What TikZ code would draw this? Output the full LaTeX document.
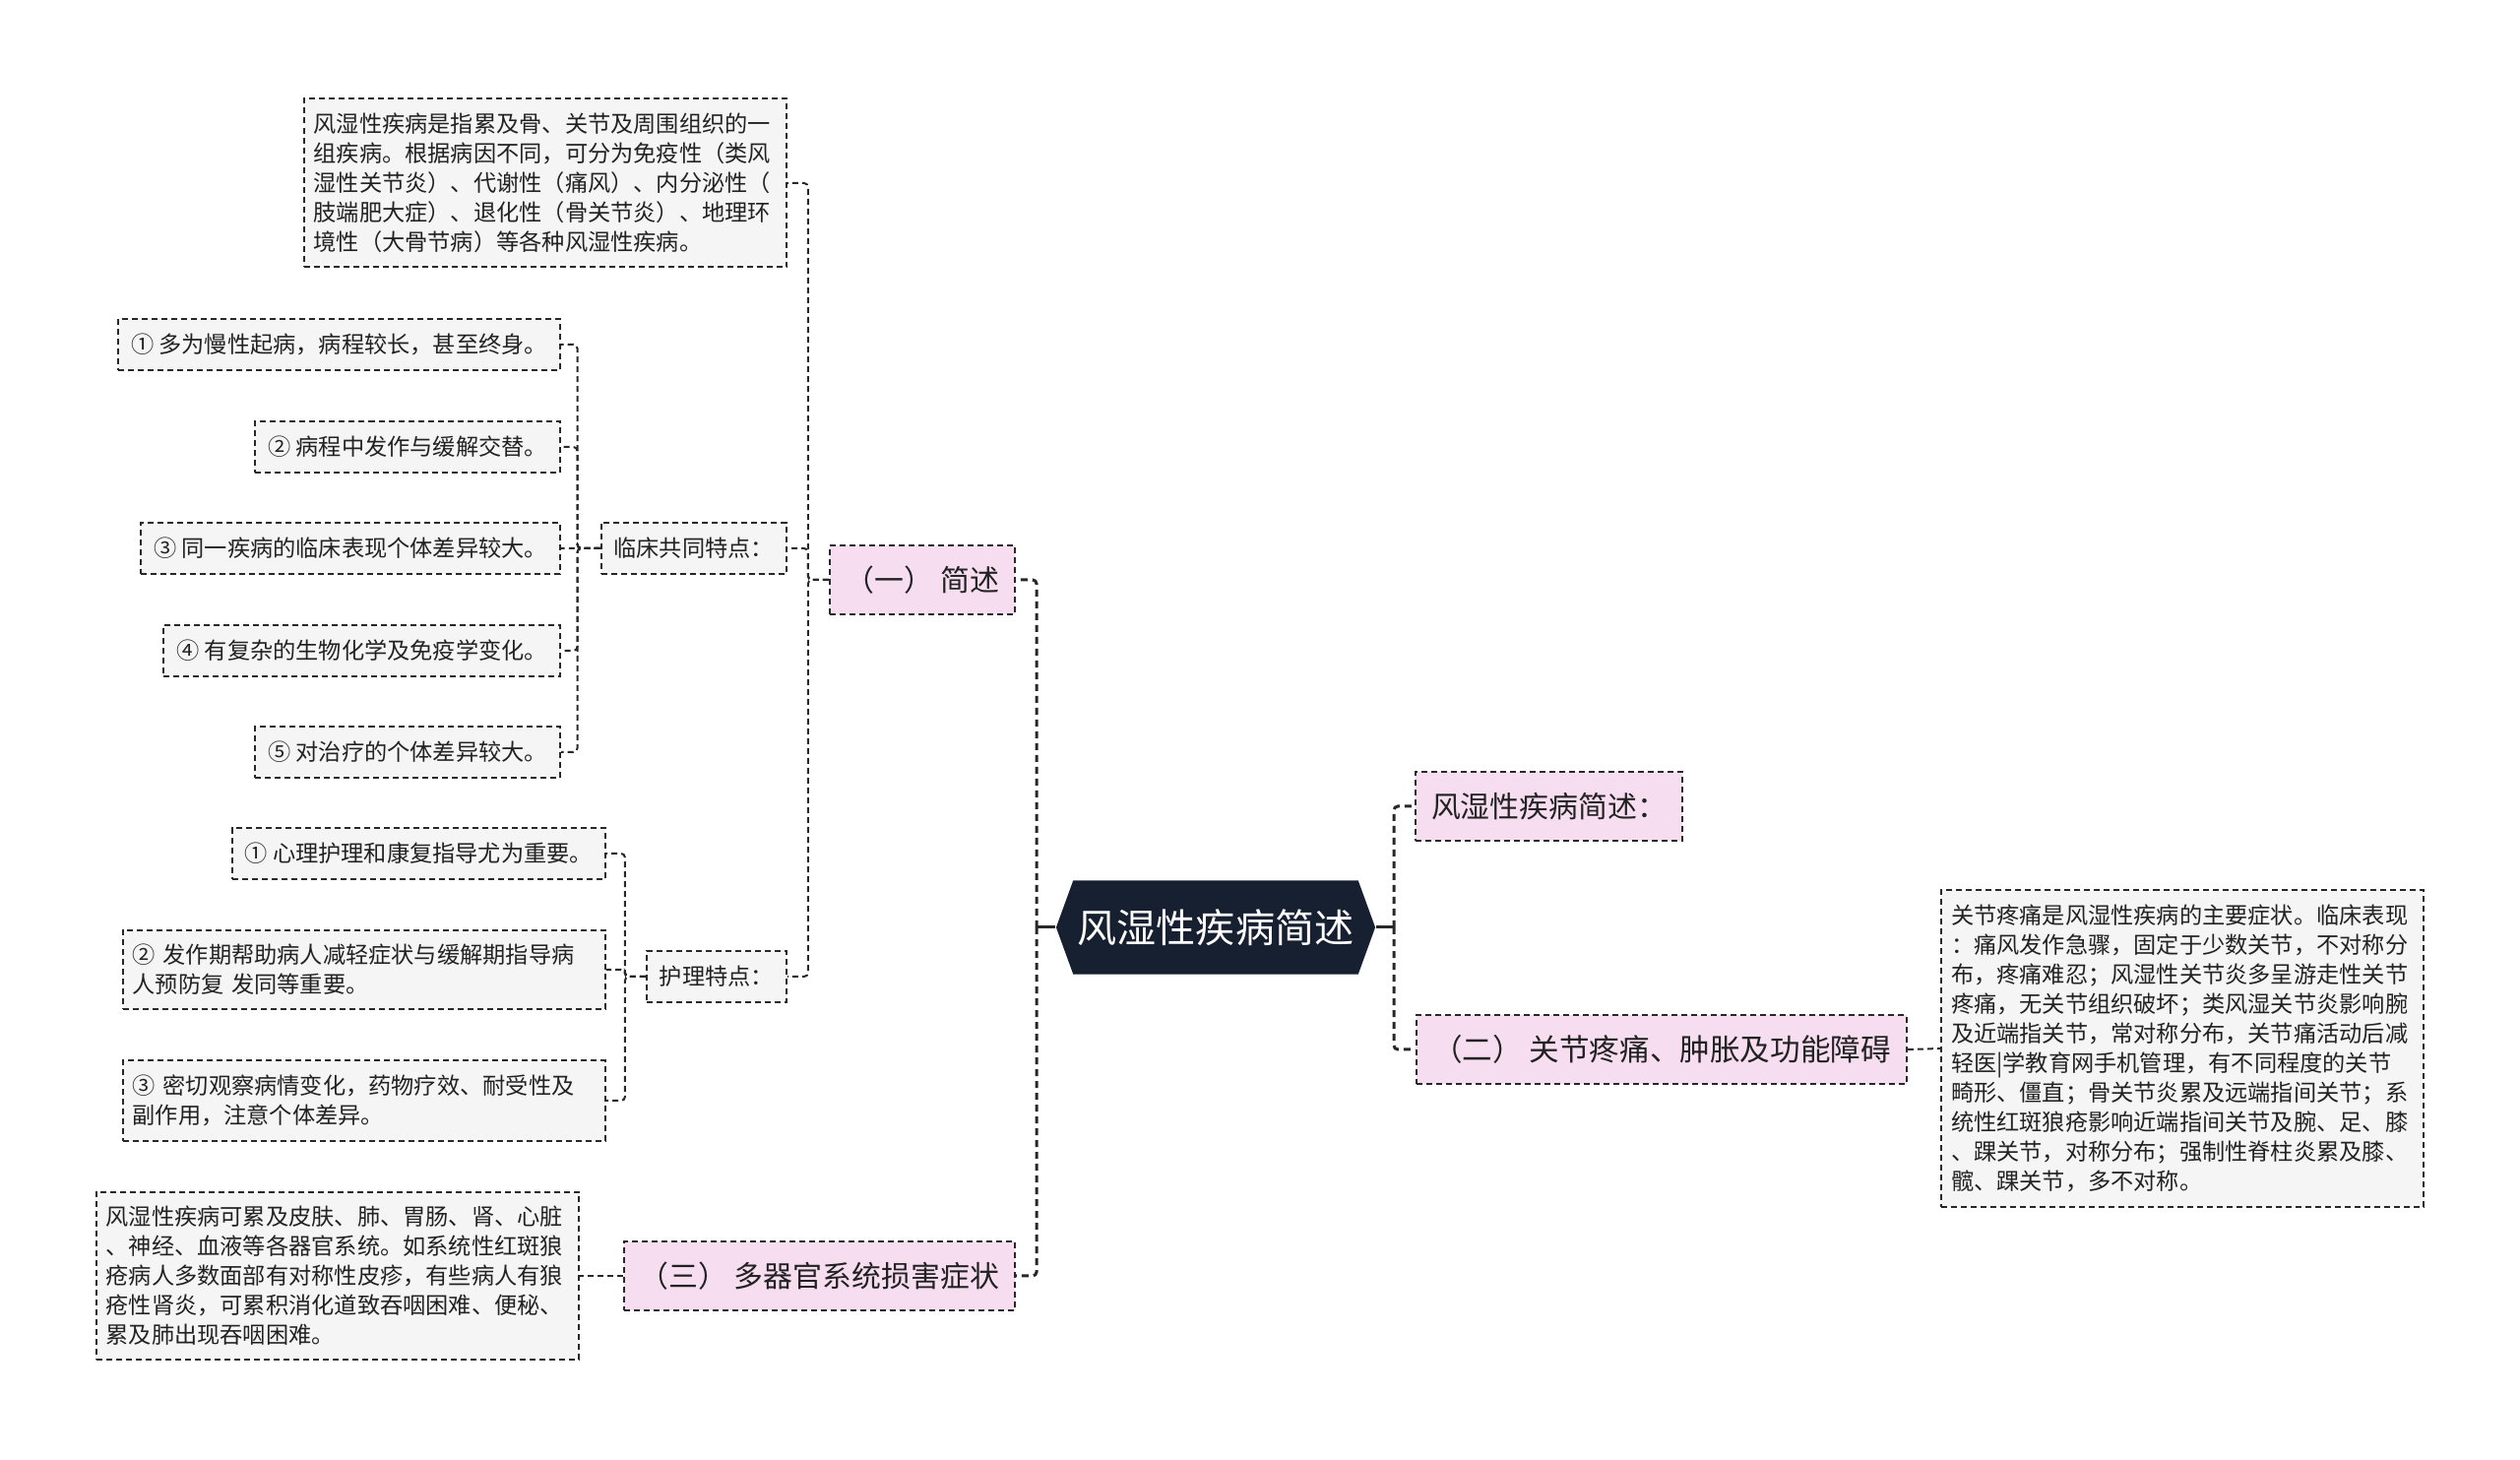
\documentclass[tikz,border=0pt]{standalone}
\usepackage{fontspec}
\setmainfont{Noto Sans CJK SC}
\usetikzlibrary{shapes.symbols}

\definecolor{rootfill}{RGB}{22,32,48}
\definecolor{pinkfill}{RGB}{246,221,240}
\definecolor{greyfill}{RGB}{245,245,245}
\definecolor{linecol}{RGB}{40,40,40}
\definecolor{textcol}{RGB}{34,34,34}

\newcommand{\rootsize}{\fontsize{11.4pt}{13pt}\selectfont}
\newcommand{\topicsize}{\fontsize{8.5pt}{10pt}\selectfont}
\newcommand{\widetopicsize}{\fontsize{8.7pt}{10.5pt}\selectfont}
\newcommand{\notesize}{\fontsize{6.6pt}{8.54pt}\selectfont}

\tikzstyle{rootnode} = [
    signal,
    signal to=west and east,
    signal pointer angle=140,
    minimum width=3.24cm,
    minimum height=0.95cm,
    inner sep=0pt,
    fill=rootfill,
    text=white,
    font=\rootsize
]
\tikzstyle{topic} = [
    rectangle,
    draw=linecol,
    line width=0.02cm,
    dash pattern=on 0.06cm off 0.04cm,
    fill=pinkfill,
    text=textcol,
    inner xsep=0.16cm,
    minimum height=0.70cm,
    font=\topicsize
]
\tikzstyle{note} = [
    rectangle,
    draw=linecol,
    line width=0.02cm,
    dash pattern=on 0.06cm off 0.04cm,
    fill=greyfill,
    text=textcol,
    inner xsep=0.13cm,
    inner ysep=0.145cm,
    minimum height=0.52cm,
    font=\notesize
]
\tikzstyle{para} = [
    note,
    text width=4.70cm,
    inner xsep=0.10cm,
    align=left
]
\tikzstyle{rootlink} = [line width=0.03cm, draw=linecol]
\tikzstyle{mainlink} = [line width=0.03cm, draw=linecol, dash pattern=on 0.07cm off 0.05cm, rounded corners=0.04cm]
\tikzstyle{sublink} = [line width=0.02cm, draw=linecol, dash pattern=on 0.06cm off 0.04cm, rounded corners=0.04cm]

\begin{document}
\begin{tikzpicture}[x=0.01cm, y=-0.01cm]

\useasboundingbox (0,0) rectangle (2560,1483);

\node (root) [rootnode] at (1235,942) {风湿性疾病简述};

% left side
\node (jianshu) [topic, anchor=east] at (1032,589) {（一）~简述};

\node (duoqi) [topic, anchor=east] at (1032,1296) {（三）~多器官系统损害症状};

\node (intro) [para, anchor=east] at (800,186)
{风湿性疾病是指累及骨、关节及周围组织的一\\组疾病。根据病因不同，可分为免疫性（类风\\湿性关节炎）、代谢性（痛风）、内分泌性（\\肢端肥大症）、退化性（骨关节炎）、地理环\\境性（大骨节病）等各种风湿性疾病。};

\node (linchuang) [note, anchor=east] at (800,557) {临床共同特点：};

\node (lc1) [note, anchor=east] at (570,350) {①~多为慢性起病，病程较长，甚至终身。};
\node (lc2) [note, anchor=east] at (570,454) {②~病程中发作与缓解交替。};
\node (lc3) [note, anchor=east] at (570,557) {③~同一疾病的临床表现个体差异较大。};
\node (lc4) [note, anchor=east] at (570,661) {④~有复杂的生物化学及免疫学变化。};
\node (lc5) [note, anchor=east] at (570,764) {⑤~对治疗的个体差异较大。};

\node (huli) [note, anchor=east] at (800,992) {护理特点：};

\node (hl1) [note, anchor=east] at (616,867) {①~心理护理和康复指导尤为重要。};
\node (hl2) [para, anchor=east] at (616,985)
{②~发作期帮助病人减轻症状与缓解期指导病\\人预防复~发同等重要。};
\node (hl3) [para, anchor=east] at (616,1118)
{③~密切观察病情变化，药物疗效、耐受性及\\副作用，注意个体差异。};

\node (duoqidesc) [para, anchor=east] at (589,1296)
{风湿性疾病可累及皮肤、肺、胃肠、肾、心脏\\、神经、血液等各器官系统。如系统性红斑狼\\疮病人多数面部有对称性皮疹，有些病人有狼\\疮性肾炎，可累积消化道致吞咽困难、便秘、\\累及肺出现吞咽困难。};

% right side
\node (gaishu) [topic, anchor=west] at (1437,819) {风湿性疾病简述：};

\node (jietong) [topic, anchor=west, font=\widetopicsize, minimum width=4.89cm] at (1438,1066)
{（二）~关节疼痛、肿胀及功能障碍};

\node (jietongdesc) [para, anchor=west] at (1971,1065)
{关节疼痛是风湿性疾病的主要症状。临床表现\\：痛风发作急骤，固定于少数关节，不对称分\\布，疼痛难忍；风湿性关节炎多呈游走性关节\\疼痛，无关节组织破坏；类风湿关节炎影响腕\\及近端指关节，常对称分布，关节痛活动后减\\轻医|学教育网手机管理，有不同程度的关节\\畸形、僵直；骨关节炎累及远端指间关节；系\\统性红斑狼疮影响近端指间关节及腕、足、膝\\、踝关节，对称分布；强制性脊柱炎累及膝、\\髋、踝关节，多不对称。};

% connectors
\coordinate (lhub) at (1053,942);
\coordinate (rhub) at (1416,942);

\draw [rootlink] (root.west) -- (lhub);
\draw [rootlink] (root.east) -- (rhub);

\draw [mainlink] (lhub) |- (jianshu.east);
\draw [mainlink] (lhub) |- (duoqi.east);
\draw [mainlink] (rhub) |- (gaishu.west);
\draw [mainlink] (rhub) |- (jietong.west);

\draw [sublink] (jianshu.west) -- ++(-21,0) |- (intro.east);
\draw [sublink] (jianshu.west) -- ++(-21,0) |- (linchuang.east);
\draw [sublink] (jianshu.west) -- ++(-21,0) |- (huli.east);

\draw [sublink] (linchuang.west) -- ++(-23,0) |- (lc1.east);
\draw [sublink] (linchuang.west) -- ++(-23,0) |- (lc2.east);
\draw [sublink] (linchuang.west) -- ++(-23,0) |- (lc3.east);
\draw [sublink] (linchuang.west) -- ++(-23,0) |- (lc4.east);
\draw [sublink] (linchuang.west) -- ++(-23,0) |- (lc5.east);

\draw [sublink] (huli.west) -- ++(-21,0) |- (hl1.east);
\draw [sublink] (huli.west) -- ++(-21,0) |- (hl2.east);
\draw [sublink] (huli.west) -- ++(-21,0) |- (hl3.east);

\draw [sublink] (duoqi.west) -- (duoqidesc.east);
\draw [sublink] (jietong.east) -- (jietongdesc.west);

\end{tikzpicture}
\end{document}
